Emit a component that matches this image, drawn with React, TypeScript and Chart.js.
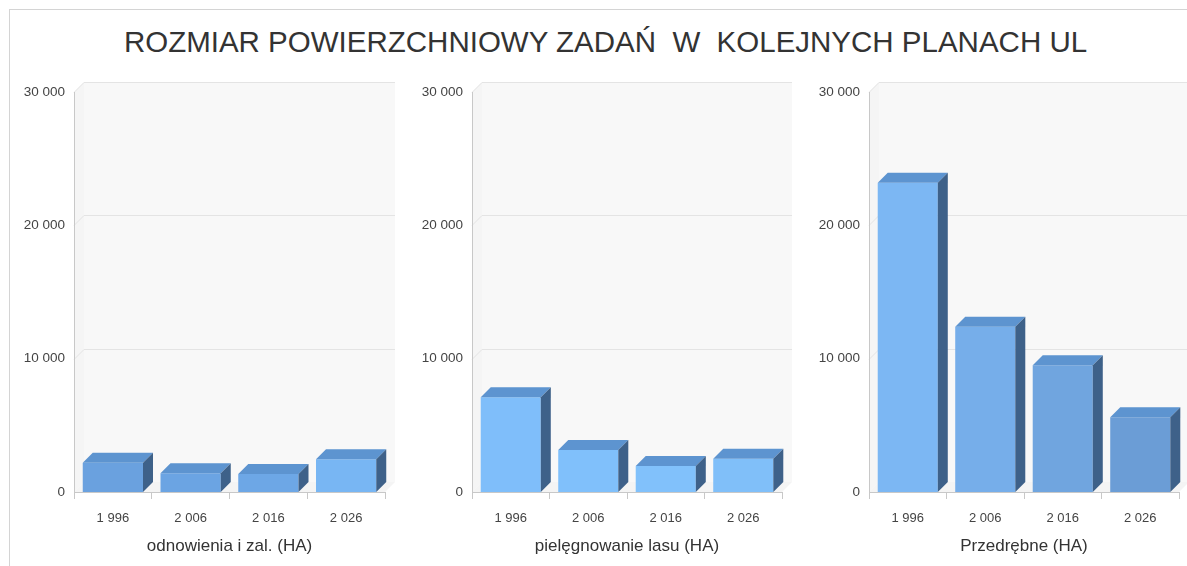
import React, { useEffect, useRef } from "react";
import { Chart, registerables } from "chart.js";

Chart.register(...registerables);

// ---- data ----
const chartTitle = "ROZMIAR POWIERZCHNIOWY ZADAŃ  W  KOLEJNYCH PLANACH UL";
const categories = ["1 996", "2 006", "2 016", "2 026"];
const odnowieniaValues = [2200, 1400, 1350, 2450];
const pielegnowanieValues = [7100, 3150, 1950, 2500];
const przedrebneValues = [23200, 12400, 9500, 5600];
const yTickValues = [0, 10000, 20000, 30000];
const axisTitles = ["odnowienia i zal. (HA)", "pielęgnowanie lasu (HA)", "Przedrębne (HA)"];

const FONT = "'Liberation Sans', Arial, Helvetica, sans-serif";
const DEPTH = 10;

function fmt(v: number): string {
  return String(v).replace(/\B(?=(\d{3})+(?!\d))/g, " ");
}

function poly(ctx: CanvasRenderingContext2D, pts: number[][]) {
  ctx.beginPath();
  ctx.moveTo(pts[0][0], pts[0][1]);
  for (let i = 1; i < pts.length; i++) ctx.lineTo(pts[i][0], pts[i][1]);
  ctx.closePath();
  ctx.fill();
}

const threeD = {
  id: "threeD",
  beforeDraw(chart: any, _args: any, opts: any) {
    const { ctx, chartArea: a, scales } = chart;
    const y = scales.y;
    const d = DEPTH;
    ctx.save();
    // left wall
    ctx.fillStyle = "#f5f5f5";
    poly(ctx, [
      [a.left, a.bottom],
      [a.left, a.top],
      [a.left + d, a.top - d],
      [a.left + d, a.bottom - d],
    ]);
    // back wall
    ctx.fillStyle = "#f8f8f8";
    ctx.fillRect(a.left + d, a.top - d, a.right - a.left, a.bottom - a.top);
    // floor
    ctx.fillStyle = "#f4f4f4";
    poly(ctx, [
      [a.left, a.bottom],
      [a.left + d, a.bottom - d],
      [a.right + d, a.bottom - d],
      [a.right, a.bottom],
    ]);
    // grid lines on the walls
    ctx.strokeStyle = opts.gridColor || "#e3e3e3";
    ctx.lineWidth = 1;
    y.ticks.forEach((t: any) => {
      if (t.value === 0) return;
      const py = Math.round(y.getPixelForValue(t.value)) + 0.5;
      ctx.beginPath();
      ctx.moveTo(a.left, py);
      ctx.lineTo(a.left + d, py - d);
      ctx.lineTo(a.right + d, py - d);
      ctx.stroke();
    });
    ctx.restore();
  },
  afterDatasetsDraw(chart: any, _args: any, opts: any) {
    const { ctx } = chart;
    const d = DEPTH;
    ctx.save();
    chart.data.datasets.forEach((_ds: any, i: number) => {
      const meta = chart.getDatasetMeta(i);
      meta.data.forEach((bar: any) => {
        const { x, y, base, width } = bar.getProps(["x", "y", "base", "width"], true);
        const l = x - width / 2;
        const r = x + width / 2;
        ctx.fillStyle = opts.topColor;
        poly(ctx, [
          [l, y],
          [l + d, y - d],
          [r + d, y - d],
          [r, y],
        ]);
        ctx.fillStyle = opts.sideColor;
        poly(ctx, [
          [r, y],
          [r + d, y - d],
          [r + d, base - d],
          [r, base],
        ]);
      });
    });
    ctx.restore();
  },
};

type PanelProps = {
  left: number;
  width: number;
  yWidth: number;
  rightPad: number;
  values: number[];
  colors: string[];
  title: string;
};

function Panel({ left, width, yWidth, rightPad, values, colors, title }: PanelProps) {
  const ref = useRef<HTMLCanvasElement | null>(null);
  useEffect(() => {
    if (!ref.current) return;
    const chart = new Chart(ref.current, {
      type: "bar",
      data: {
        labels: categories,
        datasets: [
          {
            data: values,
            backgroundColor: colors,
            borderWidth: 0,
            categoryPercentage: 1,
            barPercentage: 0.775,
          },
        ],
      },
      options: {
        responsive: false,
        animation: false,
        layout: { padding: { top: 22, right: rightPad, left: 0, bottom: 0 } },
        plugins: {
          legend: { display: false },
          tooltip: { enabled: false },
          title: { display: false },
          threeD: { topColor: "#5d94d0", sideColor: "#3e6189", gridColor: "#e4e4e4" },
        } as any,
        scales: {
          x: {
            grid: {
              offset: true,
              drawOnChartArea: false,
              drawTicks: true,
              tickLength: 7,
              color: "#c8c8c8",
            },
            border: { display: true, color: "#c8c8c8" },
            ticks: { padding: 12, color: "#444", font: { family: FONT, size: 13 } },
            title: {
              display: true,
              text: title,
              color: "#333",
              font: { family: FONT, size: 17 },
              padding: { top: 0, bottom: 9 },
            },
            afterFit: (s: any) => {
              s.height = 74;
            },
          },
          y: {
            min: 0,
            max: 30000,
            afterBuildTicks: (s: any) => {
              s.ticks = yTickValues.map((v) => ({ value: v }));
            },
            ticks: {
              padding: 9,
              color: "#444",
              font: { family: FONT, size: 13.5 },
              callback: (v: any) => fmt(Number(v)),
            },
            grid: { display: false, drawTicks: false },
            border: { display: true, color: "#c8c8c8" },
            afterFit: (s: any) => {
              s.width = yWidth;
            },
          },
        } as any,
      },
      plugins: [threeD as any],
    });
    return () => chart.destroy();
  }, []);
  return (
    <canvas
      ref={ref}
      width={width}
      height={496}
      style={{ position: "absolute", left, top: 70, width, height: 496 }}
    />
  );
}

export default function App() {
  return (
    <div
      style={{
        position: "absolute",
        left: 0,
        top: 0,
        width: 1187,
        height: 566,
        background: "#fff",
        overflow: "hidden",
      }}
    >
      <div
        style={{
          position: "absolute",
          left: 9,
          top: 9,
          width: 1200,
          height: 600,
          borderLeft: "1px solid #d4d4d4",
          borderTop: "1px solid #d4d4d4",
        }}
      />
      <div
        style={{
          position: "absolute",
          left: 12,
          top: 27,
          width: 1187,
          textAlign: "center",
          fontFamily: FONT,
          fontSize: 29.5,
          lineHeight: "30px",
          color: "#333",
          whiteSpace: "pre",
        }}
      >
        {chartTitle}
      </div>
      <Panel
        left={0}
        width={400}
        yWidth={74}
        rightPad={15}
        values={odnowieniaValues}
        colors={["#6aa1df", "#6ba4e3", "#6da7e6", "#78b6f3"]}
        title={axisTitles[0]}
      />
      <Panel
        left={400}
        width={400}
        yWidth={72}
        rightPad={18}
        values={pielegnowanieValues}
        colors={["#7fbefa", "#80c0fb", "#81c1fb", "#80bff9"]}
        title={axisTitles[1]}
      />
      <Panel
        left={795}
        width={392}
        yWidth={74}
        rightPad={8}
        values={przedrebneValues}
        colors={["#7cb7f3", "#76aeea", "#70a5df", "#6b9dd6"]}
        title={axisTitles[2]}
      />
    </div>
  );
}
